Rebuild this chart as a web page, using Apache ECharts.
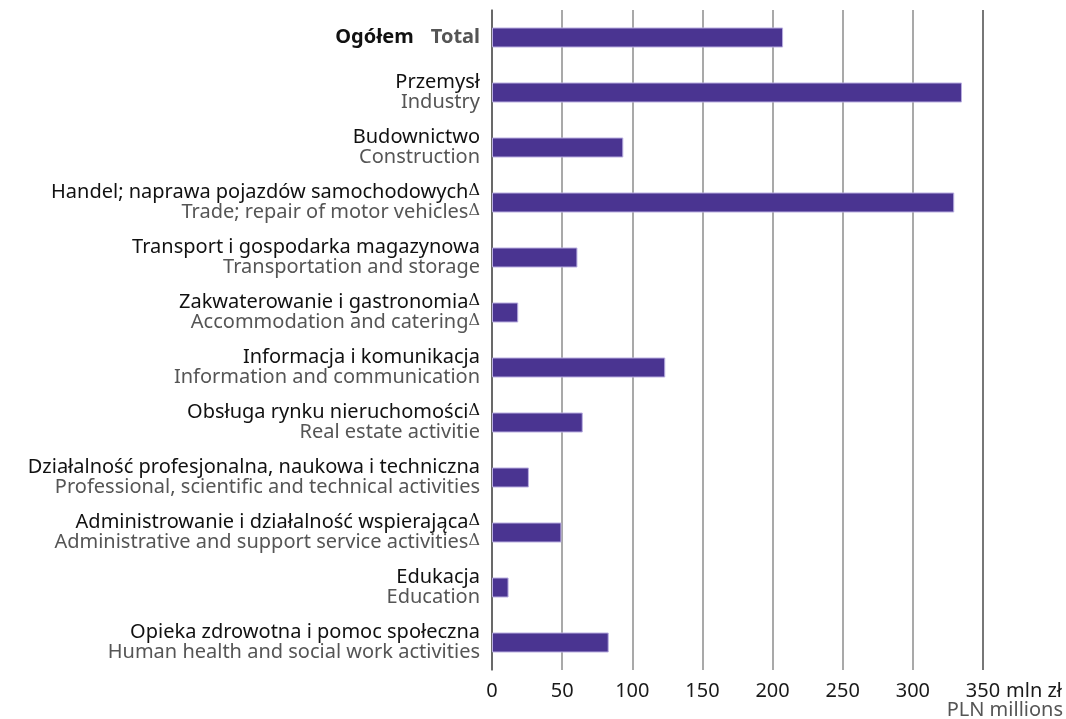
<!DOCTYPE html>
<html>
<head>
<meta charset="utf-8">
<script src="https://cdn.jsdelivr.net/npm/echarts@6/dist/echarts.min.js"></script>
<style>
html,body{margin:0;padding:0;background:#fff;}
#chart{width:1066px;height:719px;}
</style>
</head>
<body>
<div id="chart"></div>
<script>
const plNames = [
  'Ogółem',
  'Przemysł',
  'Budownictwo',
  'Handel; naprawa pojazdów samochodowych',
  'Transport i gospodarka magazynowa',
  'Zakwaterowanie i gastronomia',
  'Informacja i komunikacja',
  'Obsługa rynku nieruchomości',
  'Działalność profesjonalna, naukowa i techniczna',
  'Administrowanie i działalność wspierająca',
  'Edukacja',
  'Opieka zdrowotna i pomoc społeczna'
];
const enNames = [
  'Total',
  'Industry',
  'Construction',
  'Trade; repair of motor vehicles',
  'Transportation and storage',
  'Accommodation and catering',
  'Information and communication',
  'Real estate activitie',
  'Professional, scientific and technical activities',
  'Administrative and support service activities',
  'Education',
  'Human health and social work activities'
];
const plDelta = [false, false, false, true, false, true, false, true, false, true, false, false];
const enDelta = [false, false, false, true, false, true, false, false, false, true, false, false];
const values = [207.5, 335, 93.6, 329.5, 60.9, 18.7, 123.5, 64.7, 26.3, 49.5, 11.8, 83.2];
const xTicks = [0, 50, 100, 150, 200, 250, 300, 350];
const unitPl = 'mln zł';
const unitEn = 'PLN millions';

const FONT = '"Noto Sans", sans-serif';
const FS = 20;
const categories = plNames.map((p, i) => i);

const chart = echarts.init(document.getElementById('chart'));
chart.setOption({
  animation: false,
  backgroundColor: '#fff',
  grid: { left: 492, right: 83, top: 10, bottom: 49, containLabel: false, outerBoundsMode: 'none' },
  xAxis: {
    type: 'value',
    min: xTicks[0],
    max: xTicks[xTicks.length - 1],
    interval: 50,
    axisLine: { show: false },
    axisTick: { show: false },
    axisLabel: { fontFamily: FONT, fontSize: FS, color: '#1a1a1a', margin: 11 },
    splitLine: { show: true, lineStyle: { color: ['#8c8c8c','#8c8c8c','#8c8c8c','#8c8c8c','#8c8c8c','#8c8c8c','#8c8c8c','#4a4a4a'], width: 1.5 } }
  },
  yAxis: {
    type: 'category',
    inverse: true,
    data: categories,
    axisLine: { show: true, lineStyle: { color: '#555', width: 1.5 } },
    axisTick: { show: false },
    axisLabel: {
      margin: 12,
      align: 'right',
      formatter: function (v) {
        const i = +v;
        if (i === 0) return '{tb|' + plNames[0] + '}{sp| }{tg|' + enNames[0] + '}';
        let s = '{pl|' + plNames[i] + '}' + (plDelta[i] ? '{dp|Δ}' : '');
        s += '\n{en|' + enNames[i] + '}' + (enDelta[i] ? '{de|Δ}' : '');
        return s;
      },
      rich: {
        tb: { fontFamily: FONT, fontSize: FS, fontWeight: 'bold', color: '#111', lineHeight: 20 },
        sp: { fontFamily: FONT, fontSize: FS, lineHeight: 20, width: 17 },
        tg: { fontFamily: FONT, fontSize: FS, fontWeight: 'bold', color: '#555', lineHeight: 20 },
        pl: { fontFamily: FONT, fontSize: FS, color: '#111', lineHeight: 20 },
        en: { fontFamily: FONT, fontSize: FS, color: '#555', lineHeight: 20 },
        dp: { fontFamily: '"DejaVu Serif", serif', fontSize: 16, color: '#111', lineHeight: 14, verticalAlign: 'top' },
        de: { fontFamily: '"DejaVu Serif", serif', fontSize: 16, color: '#555', lineHeight: 14, verticalAlign: 'top' }
      }
    }
  },
  graphic: [
    { type: 'text', right: 4, top: 681, style: { text: unitPl, fontFamily: FONT, fontSize: FS, fill: '#1a1a1a' } },
    { type: 'text', right: 3, top: 700, style: { text: unitEn, fontFamily: FONT, fontSize: FS, fill: '#555' } }
  ],
  series: [{
    type: 'bar',
    data: values,
    barWidth: 20,
    itemStyle: { color: '#4a3491', borderColor: '#b9aee0', borderWidth: 1 }
  }]
});
</script>
</body>
</html>
